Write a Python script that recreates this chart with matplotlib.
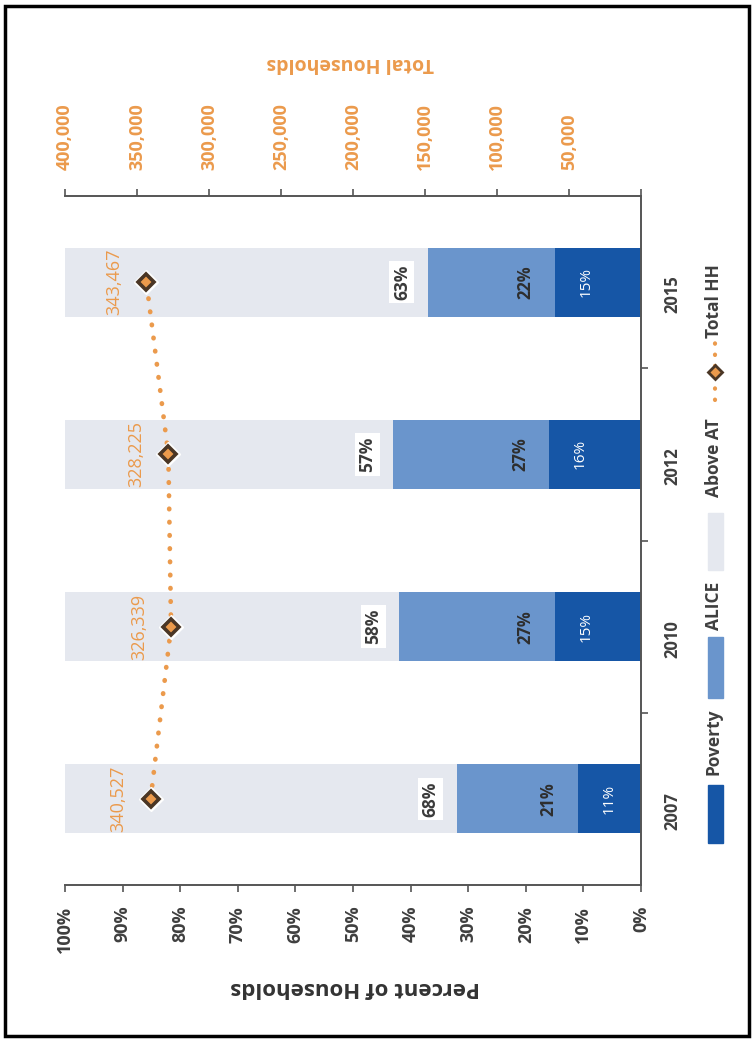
import numpy as np
import matplotlib.pyplot as plt
from matplotlib.patches import Rectangle
from matplotlib.lines import Line2D

# data
years = ['2007', '2010', '2012', '2015']
poverty = [11, 15, 16, 15]
alice = [21, 27, 27, 22]
above_at = [68, 58, 57, 63]
total_hh = [340527, 326339, 328225, 343467]

pct_ticks = list(range(0, 101, 10))
hh_ticks = list(range(0, 400001, 50000))

c_pov = '#1656a6'
c_alice = '#6a95cc'
c_above = '#e5e8ef'
c_orange = '#eb9a4c'
c_text = '#3f3f3f'
c_axis = '#555555'

plt.rcParams['font.family'] = ['Open Sans', 'DejaVu Sans']

W, H = 752, 1041
fig = plt.figure(figsize=(W / 100, H / 100), dpi=100)

def fx(px):
    return px / W

def fy(py):
    return 1 - py / H

# chart is drawn turned a quarter turn: percent axis along the bottom, years on the right
ax = fig.add_axes([fx(65), fy(885), fx(641) - fx(65), fy(196) - fy(885)])
ypos = np.arange(len(years))
left_alice = np.array(poverty)
left_above = left_alice + np.array(alice)

ax.barh(ypos, poverty, height=0.4, color=c_pov, zorder=2)
ax.barh(ypos, alice, left=left_alice, height=0.4, color=c_alice, zorder=2)
ax.barh(ypos, above_at, left=left_above, height=0.4, color=c_above, zorder=2)
ax.set_xlim(100, 0)
ax.set_ylim(-0.5, 3.5)

for s in ['left', 'top']:
    ax.spines[s].set_visible(False)
for s in ['bottom', 'right']:
    ax.spines[s].set_color(c_axis)
    ax.spines[s].set_linewidth(1.4)

ax.set_xticks(pct_ticks, [f'{v}%' for v in pct_ticks], fontweight='bold')
ax.tick_params(axis='x', direction='out', length=5, width=1.2, color=c_axis,
               pad=10, labelrotation=90, labelsize=13, labelcolor=c_text)

ax.yaxis.tick_right()
ax.set_yticks(ypos, years, fontweight='bold')
ax.set_yticks([0.5, 1.5, 2.5], minor=True)
ax.tick_params(axis='y', which='major', length=0, pad=16, labelrotation=90,
               labelsize=12, labelcolor=c_text)
ax.tick_params(axis='y', which='minor', length=5, width=1.2, color=c_axis, direction='out')

# bar labels, placed near the base of each segment
for i in ypos:
    ax.text(poverty[i] - 5.5, i, f'{poverty[i]}%', rotation=90, ha='center', va='center',
            color='white', fontsize=11, zorder=3)
    ax.text(left_alice[i] + 5, i, f'{alice[i]}%', rotation=90, ha='center', va='center',
            color='#2e2e2e', fontsize=12, fontweight='bold', zorder=3)
    ax.text(left_above[i] + 4.5, i, f'{above_at[i]}%', rotation=90, ha='center', va='center',
            color='#3a3a3a', fontsize=12.5, fontweight='bold', zorder=3,
            bbox=dict(boxstyle='square,pad=0.2', fc='white', ec='none'))

# total households on the secondary axis (top)
ax2 = ax.twiny()
ax2.set_xlim(400000, 0)
ax2.set_xticks(hh_ticks, ['' if v == 0 else f'{v:,}' for v in hh_ticks], fontweight='bold')
ax2.tick_params(axis='x', direction='out', length=5, width=1.2, color=c_axis,
                pad=14, labelrotation=90, labelsize=13, labelcolor=c_orange)
for s in ['left', 'right', 'bottom']:
    ax2.spines[s].set_visible(False)
ax2.spines['top'].set_color(c_axis)
ax2.spines['top'].set_linewidth(1.4)

ax2.plot(total_hh, ypos, color=c_orange, lw=3.4, linestyle=(0, (0.1, 2.7)),
         dash_capstyle='round', zorder=3)
ax2.plot(total_hh, ypos, linestyle='none', marker='D', ms=12.5, mfc='white', mec='white', zorder=4)
ax2.plot(total_hh, ypos, linestyle='none', marker='D', ms=8.5, mfc=c_orange, mec='#4a3625',
         mew=2.6, zorder=5)
for v, y in zip(total_hh, ypos):
    ax2.annotate(f'{v:,}', (v, y), xytext=(-23, 0), textcoords='offset points',
                 rotation=90, ha='center', va='center', color=c_orange, fontsize=13)

# axis titles
fig.text(fx(350), fy(63), 'Total Households', rotation=180, ha='center', va='center',
         color=c_orange, fontsize=14, fontweight='bold')
fig.text(fx(355), fy(987), 'Percent of Households', rotation=180, ha='center', va='center',
         color='#333333', fontsize=16, fontweight='bold')

# legend, turned like the rest of the chart
def leg_patch(y0, y1, color):
    fig.add_artist(Rectangle((fx(708), fy(y1)), fx(723) - fx(708), fy(y0) - fy(y1),
                             transform=fig.transFigure, color=color))

def leg_text(yc, s):
    fig.text(fx(714), fy(yc), s, rotation=90, ha='center', va='center',
             color=c_text, fontsize=12.5, fontweight='bold')

leg_patch(785, 843, c_pov)
leg_text(742, 'Poverty')
leg_patch(637, 698, c_alice)
leg_text(606, 'ALICE')
leg_patch(513, 570, c_above)
leg_text(458, 'Above AT')
fig.add_artist(Line2D([fx(715), fx(715)], [fy(400), fy(343)], transform=fig.transFigure,
                      color=c_orange, lw=3, linestyle=(0, (0.1, 2.6)), dash_capstyle='round'))
fig.add_artist(Line2D([fx(715)], [fy(372)], transform=fig.transFigure, marker='D', ms=7,
                      mfc=c_orange, mec='#4a3625', mew=2))
leg_text(301, 'Total HH')

# scan frame
fig.add_artist(Rectangle((fx(5), fy(1036)), fx(749) - fx(5), fy(6) - fy(1036),
                         transform=fig.transFigure, fill=False, ec='black', lw=2.5))

fig.savefig('out.png', dpi=100)
